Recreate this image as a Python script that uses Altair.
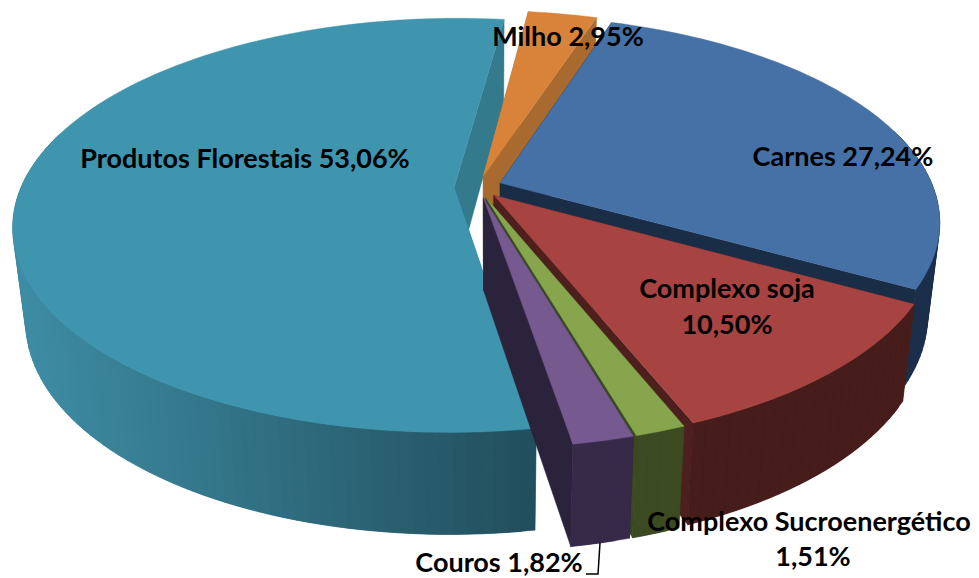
import math
import altair as alt
import pandas as pd

# Data
categories = ["Produtos Florestais", "Milho", "Carnes", "Complexo soja", "Complexo Sucroenergético", "Couros"]
shares = [53.06, 2.95, 27.24, 10.50, 1.51, 1.82]
top_colors = ["#3F95AE", "#D9833A", "#4671A6", "#A74442", "#87A54C", "#75598F"]
face_colors = ["#327A8C", "#A96A30", "#1A2D47", "#4D1F1D", "#3A4A20", "#2B233C"]
wall_light = ["#3E8DA5", "#A96A30", "#1B2F4B", "#461D1B", "#3B4A20", "#372A49"]
wall_dark = ["#224E5C", "#A96A30", "#1B2F4B", "#461D1B", "#3B4A20", "#372A49"]

labels_text = ["Produtos Florestais 53,06%", "Milho 2,95%", "Carnes 27,24%", "Complexo soja", "10,50%",
               "Complexo Sucroenergético", "1,51%", "Couros 1,82%"]
labels_x = [245, 568, 843, 727, 727, 809, 813, 499]
labels_y = [160, 38, 158, 290, 326, 523, 558, 564]
leader_x = [600, 598, 586]
leader_y = [543, 574, 574]

# 3D pie geometry
START_DEG = 170.5
X0, Y0, RX, RY, K = 478.0, 187.0, 433.0, 200.0, 0.184
EXPLODE = 0.055
DEPTH, DEPTH_TILT, SHRINK, SHRINK_CX = 92.0, 10.0, 0.973, 490.0


def project(theta, bis, r=1.0, low=False):
    u = EXPLODE * math.sin(bis) + r * math.sin(theta)
    v = -EXPLODE * math.cos(bis) - r * math.cos(theta)
    w = 1 - K * v
    x = X0 + RX * u / w
    y = Y0 + RY * v / w
    if low:
        x = SHRINK_CX + (x - SHRINK_CX) * SHRINK
        y = y + DEPTH + DEPTH_TILT * v
    return x, y


def mix(a, b, t):
    t = max(0.0, min(1.0, t))
    ca = [int(a[i:i + 2], 16) for i in (1, 3, 5)]
    cb = [int(b[i:i + 2], 16) for i in (1, 3, 5)]
    return "#%02x%02x%02x" % tuple(round(p + (q - p) * t) for p, q in zip(ca, cb))


rows = []
piece = 0


def add(points, color):
    global piece
    piece += 1
    pts = list(points) + [points[0]]
    for i, (x, y) in enumerate(pts):
        rows.append({"x": x, "y": y, "i": i, "piece": f"p{piece:05d}", "fill": color})


total = sum(shares)
start = START_DEG
for n, share in enumerate(shares):
    span = share / total * 360
    a0, a1 = math.radians(start), math.radians(start + span)
    bis = (a0 + a1) / 2
    steps = max(4, int(span / 1.5))
    angles = [a0 + (a1 - a0) * s / steps for s in range(steps + 1)]

    # cut faces
    for a in (a0, a1):
        add([project(a, bis, 0), project(a, bis), project(a, bis, low=True), project(a, bis, 0, low=True)],
            face_colors[n])

    # outer wall: only the part that faces the viewer, in strips that each run under the next
    front = [a for a in angles if math.cos(a) < 0.3]
    if len(front) > 1:
        strips = sorted(range(len(front) - 1), key=lambda j: project(front[j], bis)[0], reverse=True)
        for j in strips:
            p = front[j]
            q = front[min(j + 2, len(front) - 1)]
            x_mid = (project(front[j], bis)[0] + project(front[j + 1], bis)[0]) / 2
            col = mix(wall_light[n], wall_dark[n], (x_mid - 12) / (535 - 12))
            add([project(p, bis), project(q, bis), project(q, bis, low=True), project(p, bis, low=True)], col)

    # top surface
    add([project(0, bis, 0)] + [project(a, bis) for a in angles], top_colors[n])
    start += span

df = pd.DataFrame(rows)
xs = alt.Scale(domain=[8, 971], nice=False, zero=False)
ys = alt.Scale(domain=[578, 8], nice=False, zero=False)

pie = alt.Chart(df).mark_line(strokeWidth=0.4, strokeJoin="round", opacity=1).encode(
    x=alt.X("x:Q", scale=xs, axis=None),
    y=alt.Y("y:Q", scale=ys, axis=None),
    order=alt.Order("i:Q"),
    detail="piece:N",
    fill=alt.Fill("fill:N", scale=None),
    stroke=alt.Stroke("fill:N", scale=None),
)

leader = alt.Chart(pd.DataFrame({"x": leader_x, "y": leader_y, "i": range(len(leader_x))})).mark_line(
    color="black", strokeWidth=1.5).encode(
    x=alt.X("x:Q", scale=xs, axis=None),
    y=alt.Y("y:Q", scale=ys, axis=None),
    order=alt.Order("i:Q"),
)

text = alt.Chart(pd.DataFrame({"t": labels_text, "x": labels_x, "y": labels_y})).mark_text(
    font="Lato", fontWeight="bold", fontSize=27, color="black", align="center", baseline="middle").encode(
    x=alt.X("x:Q", scale=xs, axis=None),
    y=alt.Y("y:Q", scale=ys, axis=None),
    text="t:N",
)

chart = (pie + leader + text).properties(
    width=963, height=570, padding=0, background="white",
    autosize=alt.AutoSizeParams(type="none"),
).configure_view(stroke=None)

chart.save("out.html", embed_options={"renderer": "svg", "actions": False})
